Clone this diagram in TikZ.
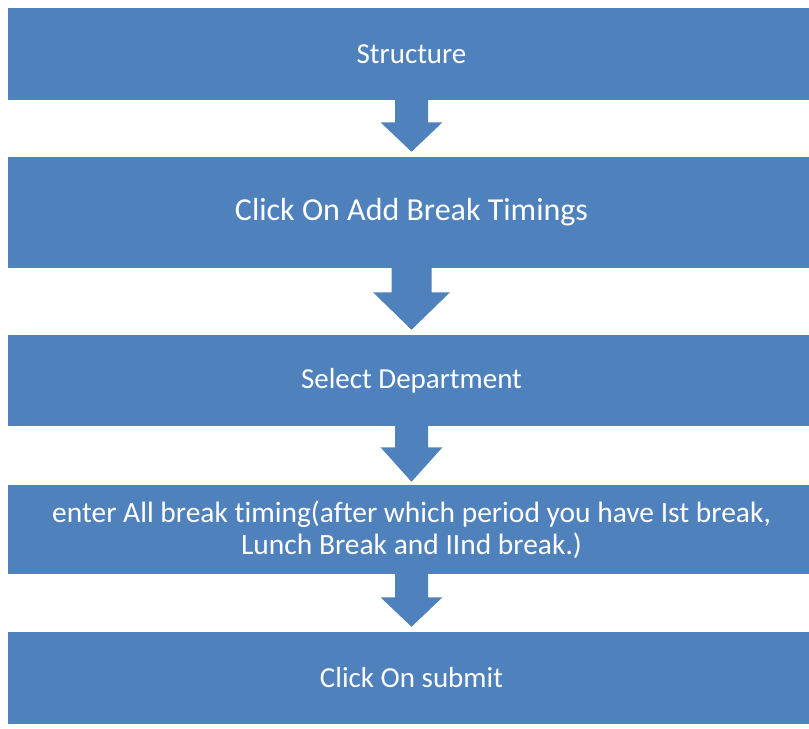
\documentclass[tikz,border=0pt]{standalone}
\usepackage{fontspec}
\setmainfont{Carlito}[Ligatures={NoCommon}]
\usetikzlibrary{calc}
\definecolor{boxblue}{HTML}{4F81BD}
\newcommand{\blkarrow}[6]{%
  % #1 from node, #2 to node, #3 shaft half width, #4 head half width, #5 shaft length, #6 tip gap
  \fill[boxblue]
    ($(#1.south)+(-#3,-1)$) -- ($(#1.south)+(-#3,#5)$) -- ($(#1.south)+(-#4,#5)$)
    -- ($(#2.north)+(0,-#6)$)
    -- ($(#1.south)+(#4,#5)$) -- ($(#1.south)+(#3,#5)$) -- ($(#1.south)+(#3,-1)$) -- cycle;}
\begin{document}
\begin{tikzpicture}[x=0.75pt,y=-0.75pt,
  stepbox/.style={fill=boxblue, draw=none, text=white, inner sep=0pt, align=center,
    minimum width=807*0.75pt, font=\fontsize{21.75}{24}\selectfont},
]
\fill[white] (0,0) rectangle (809,728);
\useasboundingbox (0,0) rectangle (809,728);

\node[stepbox, minimum height=92*0.75pt] (b1) at (411.5,54) {Structure};
\node[stepbox, minimum height=111*0.75pt, font=\fontsize{24}{28}\selectfont] (b2) at (411.5,212.5) {Click On Add Break Timings};
\node[stepbox, minimum height=91*0.75pt] (b3) at (411.5,380.5) {Select Department};
\node[stepbox, minimum height=89*0.75pt, font=\fontsize{22.1}{24}\selectfont] (b4) at (411.5,529.5) {enter All break timing(after which period you have Ist break,\\Lunch Break and IInd break.)};
\node[stepbox, minimum height=92*0.75pt] (b5) at (411.5,678) {Click On submit};

\blkarrow{b1}{b2}{16.5}{31}{22}{5}
\blkarrow{b2}{b3}{20}{38.5}{24}{5}
\blkarrow{b3}{b4}{16.5}{31}{21}{3}
\blkarrow{b4}{b5}{16.5}{31}{23}{5}
\end{tikzpicture}
\end{document}
